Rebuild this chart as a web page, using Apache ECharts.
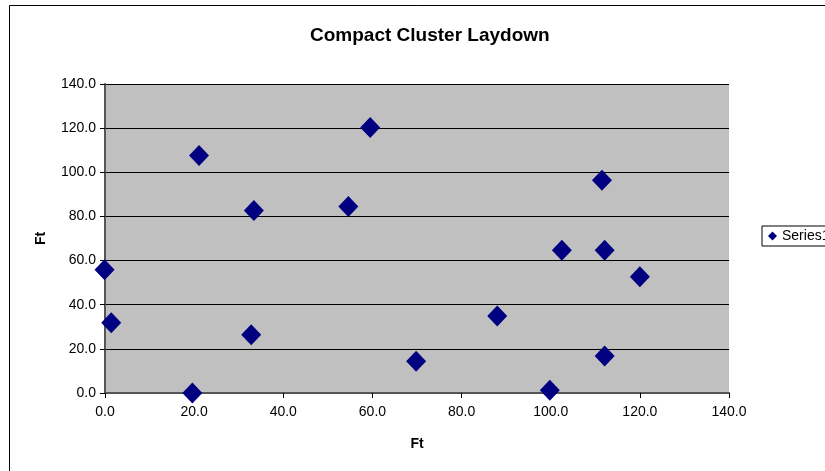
<!DOCTYPE html>
<html>
<head>
<meta charset="utf-8">
<script src="https://cdn.jsdelivr.net/npm/echarts@6/dist/echarts.min.js"></script>
<style>
  html, body { margin: 0; padding: 0; background: #fff; }
  #chart { width: 825px; height: 471px; }
</style>
</head>
<body>
<div id="chart"></div>
<script>
// Laydown positions, in feet
const xFt = [-0.1, 1.4, 19.6, 21.1, 32.8, 33.4, 54.6, 59.5, 69.8, 88.0, 99.8, 102.5, 111.5, 112.1, 112.1, 120.0];
const yFt = [55.8, 31.8, 0.0, 107.6, 26.4, 82.7, 84.5, 120.3, 14.4, 34.9, 1.2, 64.7, 96.4, 64.7, 16.8, 52.7];
const seriesName = 'Series1';
const titleText = 'Compact Cluster Laydown';
const axisName = 'Ft';

const points = xFt.map((x, i) => [x, yFt[i]]);
const fmt = v => v.toFixed(1);
const font = 'Liberation Sans';

const chart = echarts.init(document.getElementById('chart'));
chart.setOption({
  animation: false,
  backgroundColor: '#ffffff',
  title: {
    text: titleText,
    left: 305,
    top: 21,
    textStyle: { fontFamily: font, fontSize: 19, fontWeight: 'bold', color: '#000' }
  },
  legend: {
    data: [seriesName],
    left: 762,
    top: 226,
    orient: 'vertical',
    padding: [3, 6, 3, 6],
    borderColor: '#000',
    borderWidth: 1,
    itemWidth: 9,
    itemHeight: 9,
    itemGap: 4,
    textStyle: { fontFamily: font, fontSize: 14, color: '#000' }
  },
  grid: { left: 105, top: 84, width: 624, height: 309, show: true, backgroundColor: '#c0c0c0', borderWidth: 0 },
  xAxis: {
    type: 'value',
    min: 0, max: 140, interval: 20,
    name: axisName,
    nameLocation: 'middle',
    nameGap: 44,
    nameTextStyle: { fontFamily: font, fontSize: 14, fontWeight: 'bold', color: '#000' },
    axisLine: { show: true, onZero: false, lineStyle: { color: '#555', width: 2 } },
    axisTick: { show: true, length: 5, lineStyle: { color: '#000' } },
    axisLabel: { formatter: fmt, fontFamily: font, fontSize: 14, color: '#000', margin: 12 },
    splitLine: { show: false }
  },
  yAxis: {
    type: 'value',
    min: 0, max: 140, interval: 20,
    name: axisName,
    nameLocation: 'middle',
    nameGap: 57,
    nameTextStyle: { fontFamily: font, fontSize: 14, fontWeight: 'bold', color: '#000' },
    axisLine: { show: true, onZero: false, lineStyle: { color: '#555', width: 2 } },
    axisTick: { show: true, length: 5, lineStyle: { color: '#000' } },
    axisLabel: { formatter: fmt, fontFamily: font, fontSize: 14, color: '#000', margin: 9 },
    splitLine: { show: true, lineStyle: { color: '#000', width: 1 } }
  },
  series: [{
    name: seriesName,
    type: 'scatter',
    data: points,
    clip: false,
    symbol: 'diamond',
    symbolSize: [20, 21],
    itemStyle: { color: '#000080', opacity: 1 }
  }],
  graphic: [{
    type: 'polyline',
    shape: { points: [[9.5, 471], [9.5, 5.5], [825, 5.5]] },
    style: { stroke: '#000', lineWidth: 1, fill: null },
    silent: true
  }]
});
</script>
</body>
</html>
